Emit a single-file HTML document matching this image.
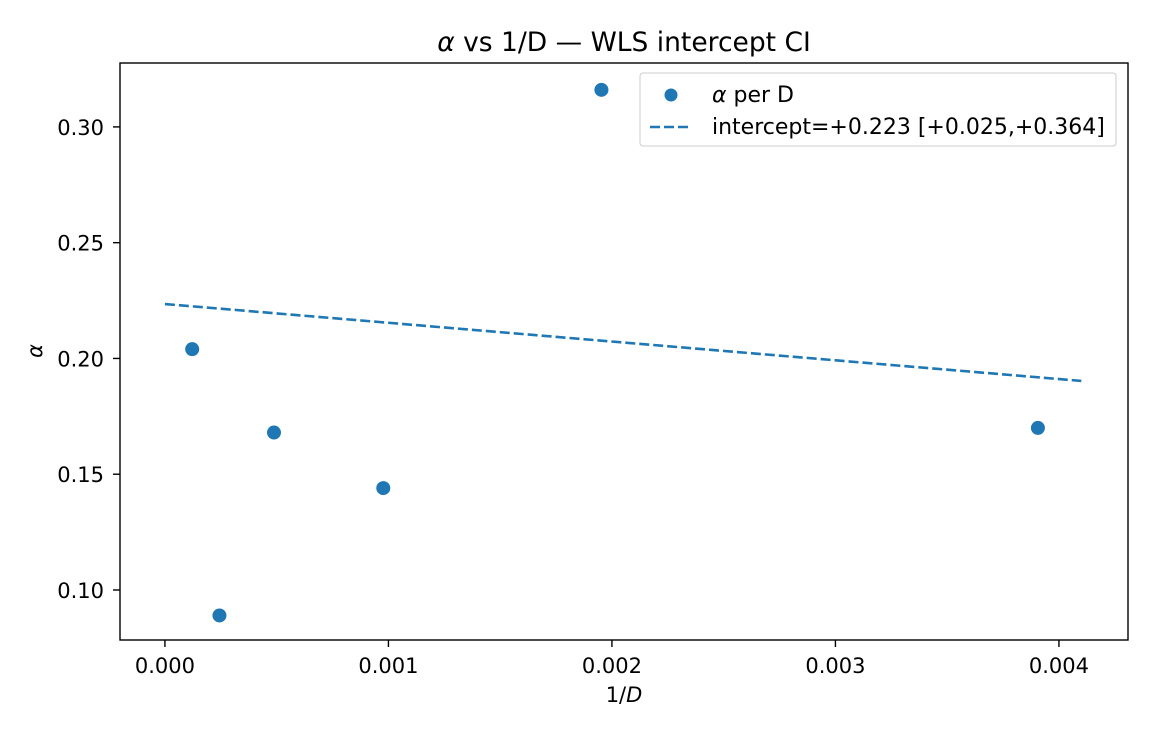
<!DOCTYPE html>
<html><head><meta charset="utf-8"><style>
body{margin:0;background:#fff;font-family:"DejaVu Sans",sans-serif;}
svg text{font-family:"DejaVu Sans","Liberation Sans",sans-serif;}
</style></head><body>
<svg id="chart" width="1152" height="736">
<rect width="1152" height="736" fill="#fff"/>
<text x="624" y="51" font-size="26.5" text-anchor="middle"><tspan font-style="italic">α</tspan> vs 1/D — WLS intercept CI</text>
<g id="plot"></g>
<rect x="120" y="63" width="1008" height="577" fill="none" stroke="#000" stroke-width="1.4"/>
<text x="624" y="702" font-size="21" text-anchor="middle">1/<tspan font-style="italic">D</tspan></text>
<text transform="translate(42,351) rotate(-90)" font-size="21" text-anchor="middle" font-style="italic">α</text>
<g>
<rect x="640" y="73" width="476" height="73" rx="3" fill="#fff" stroke="#ccc"/>
<circle cx="671" cy="95" r="6.5" fill="#1f77b4"/>
<text x="712" y="102" font-size="22"><tspan font-style="italic">α</tspan> per D</text>
<line x1="650" y1="127" x2="692" y2="127" stroke="#1f77b4" stroke-width="2.6" stroke-dasharray="10,4"/>
<text x="712" y="134" font-size="22">intercept=+0.223 [+0.025,+0.364]</text>
</g>
</svg>
<script>
const xVals=[0.000122,0.000244,0.000488,0.000977,0.001953,0.003906];
const yVals=[0.204,0.089,0.168,0.144,0.316,0.170];
const xTicks=[0,0.001,0.002,0.003,0.004];
const xTickLabels=["0.000","0.001","0.002","0.003","0.004"];
const yTicks=[0.10,0.15,0.20,0.25,0.30];
const yTickLabels=["0.10","0.15","0.20","0.25","0.30"];
const fitIntercept=0.2235;
const fitSlope=-8.1;
const fitRange=[0,0.0041];
const NS="http://www.w3.org/2000/svg";
const X0=120,X1=1128,Y0=63,Y1=640;
const xMin=-0.000201,xMax=0.004309,yMin=0.0784,yMax=0.3276;
const sx=v=>X0+(v-xMin)/(xMax-xMin)*(X1-X0);
const sy=v=>Y1-(v-yMin)/(yMax-yMin)*(Y1-Y0);
const g=document.getElementById('plot');
function mk(t,a){const e=document.createElementNS(NS,t);for(const k in a)e.setAttribute(k,a[k]);g.appendChild(e);return e;}
xTicks.forEach((v,i)=>{
 const l=mk('line',{x1:sx(v),x2:sx(v),y1:Y1,y2:Y1+7,stroke:'#000','stroke-width':1.4});
 
 
 const t=mk('text',{x:sx(v),y:Y1+33,'font-size':21,'text-anchor':'middle'});t.textContent=xTickLabels[i];
 
 
});
yTicks.forEach((v,i)=>{
 const l=mk('line',{x1:X0-7,x2:X0,y1:sy(v),y2:sy(v),stroke:'#000','stroke-width':1.4});
 
 
 const t=mk('text',{x:X0-16,y:sy(v)+8,'font-size':21,'text-anchor':'end'});t.textContent=yTickLabels[i];
 
 
});
const fl=mk('line',{x1:sx(fitRange[0]),y1:sy(fitIntercept+fitSlope*fitRange[0]),x2:sx(fitRange[1]),y2:sy(fitIntercept+fitSlope*fitRange[1]),stroke:'#1f77b4','stroke-width':2.6,'stroke-dasharray':'10,4'});


xVals.forEach((v,i)=>{
 const c=mk('circle',{cx:sx(v),cy:sy(yVals[i]),r:7,fill:'#1f77b4'});
 
 
});
</script>
</body></html>
